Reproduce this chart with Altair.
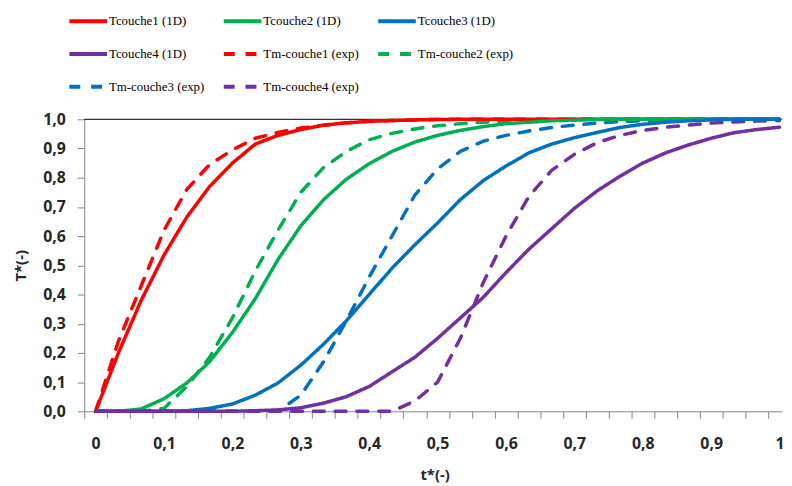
import altair as alt
import pandas as pd

# time axis: 31 samples t = k/30
t_values = [k / 30 for k in range(31)]

names = ["Tcouche1 (1D)", "Tcouche2 (1D)", "Tcouche3 (1D)", "Tcouche4 (1D)",
         "Tm-couche1 (exp)", "Tm-couche2 (exp)", "Tm-couche3 (exp)", "Tm-couche4 (exp)"]
colors = ["#FF0000", "#00B050", "#0070C0", "#7030A0",
          "#FF0000", "#00B050", "#0070C0", "#7030A0"]

T1 = [0, 0.20, 0.38, 0.535, 0.665, 0.77, 0.85, 0.915, 0.945, 0.965, 0.98, 0.988, 0.993, 0.996, 0.998,
      0.999, 1, 1, 1, 1, 1, 1, 1, 1, 1, 1, 1, 1, 1, 1, 1]
T2 = [0, 0, 0.008, 0.043, 0.097, 0.17, 0.27, 0.385, 0.52, 0.635, 0.725, 0.795, 0.848, 0.89, 0.922,
      0.945, 0.962, 0.975, 0.985, 0.99, 0.995, 0.997, 0.999, 1, 1, 1, 1, 1, 1, 1, 1]
T3 = [0, 0, 0, 0, 0.002, 0.01, 0.025, 0.055, 0.097, 0.158, 0.23, 0.31, 0.40, 0.49, 0.57,
      0.645, 0.725, 0.79, 0.84, 0.885, 0.915, 0.937, 0.955, 0.972, 0.983, 0.99, 0.995, 0.998, 1, 1, 1]
T4 = [0, 0, 0, 0, 0, 0, 0, 0.002, 0.005, 0.012, 0.028, 0.05, 0.085, 0.135, 0.185,
      0.25, 0.32, 0.39, 0.475, 0.555, 0.625, 0.695, 0.755, 0.805, 0.85, 0.885, 0.912, 0.935, 0.954, 0.965, 0.973]
Tm1 = [0, 0.24, 0.43, 0.62, 0.76, 0.845, 0.895, 0.935, 0.955, 0.97, 0.98, 0.988, 0.993, 0.996, 0.998,
       1, 1, 1, 1, 1, 1, 1, 1, 1, 1, 1, 1, 1, 1, 1, 1]
Tm2 = [0, 0, 0, 0.01, 0.085, 0.185, 0.32, 0.48, 0.62, 0.75, 0.835, 0.89, 0.93, 0.952, 0.967,
       0.978, 0.985, 0.99, 0.993, 0.996, 0.998, 1, 1, 1, 1, 1, 1, 1, 1, 1, 1]
Tm3 = [0, 0, 0, 0, 0, 0, 0, 0, 0, 0.055, 0.17, 0.31, 0.46, 0.60, 0.74,
       0.83, 0.89, 0.925, 0.945, 0.96, 0.972, 0.98, 0.987, 0.992, 0.995, 0.997, 1, 1, 1, 1, 1]
Tm4 = [0, 0, 0, 0, 0, 0, 0, 0, 0, 0, 0, 0, 0, 0, 0.035,
       0.10, 0.25, 0.44, 0.60, 0.735, 0.825, 0.88, 0.92, 0.945, 0.962, 0.973, 0.98, 0.987, 0.991, 0.994, 0.996]

series = [T1, T2, T3, T4, Tm1, Tm2, Tm3, Tm4]
dashes = [[1, 0]] * 4 + [[11, 11]] * 4

rows = []
for name, vals in zip(names, series):
    for t, v in zip(t_values, vals):
        rows.append({"series": name, "t": t, "v": v})
df = pd.DataFrame(rows)
df_solid = df[~df["series"].str.startswith("Tm")]
df_dash = df[df["series"].str.startswith("Tm")]

x_scale = alt.Scale(domain=[-1 / 60, 1.0036], nice=False, zero=False)
y_scale = alt.Scale(domain=[0, 1], nice=False)

label_font = "Open Sans"
axis_col = "#868686"

x_axis = alt.Axis(
    values=t_values, tickOffset=-11.5, labelOffset=11.5,
    labelExpr="abs(datum.value*10 - round(datum.value*10)) < 0.0001 ? replace(format(round(datum.value*10)/10, '~g'), '.', ',') : ''",
    labelFlush=False, labelOverlap=False, grid=False,
    domainColor=axis_col, tickColor=axis_col, tickSize=7, labelPadding=18,
    labelFont=label_font, labelFontWeight="bold", labelFontSize=16, labelColor="#262626",
    title="t*(-)", titleFont=label_font, titleFontWeight="bold", titleFontSize=15, titleColor="#262626",
    titleX=354, titleY=64, titleBaseline="middle", titleAlign="center",
)
y_axis = alt.Axis(
    values=[i / 10 for i in range(11)],
    labelExpr="replace(format(datum.value, '.1f'), '.', ',')",
    labelFlush=False, labelOverlap=False, grid=False,
    domainColor=axis_col, tickColor=axis_col, tickSize=7, labelPadding=12,
    labelFont=label_font, labelFontWeight="bold", labelFontSize=16, labelColor="#262626",
    title="T*(-)", titleFont=label_font, titleFontWeight="bold", titleFontSize=15, titleColor="#262626",
    titleX=-64, titleY=147.5, titleBaseline="middle", titleAlign="center", titleAngle=-90,
)

legend = alt.Legend(
    orient="none", legendX=-17, legendY=-120, columns=3, direction="horizontal", title=None,
    symbolType="stroke", symbolSize=1444, symbolStrokeWidth=4,
    labelFont="Liberation Serif", labelFontSize=13, labelColor="#000000", labelLimit=300,
    columnPadding=11, rowPadding=4, labelOffset=0, padding=0,
)

color = alt.Color("series:N", scale=alt.Scale(domain=names, range=colors), legend=legend)
dash = alt.StrokeDash("series:N", scale=alt.Scale(domain=names, range=dashes), legend=legend)

top_rule = alt.Chart(pd.DataFrame({"v": [1.0]})).mark_rule(color="black", strokeWidth=1).encode(
    y=alt.Y("v:Q", scale=y_scale, axis=y_axis)
)

dashed = alt.Chart(df_dash).mark_line(strokeWidth=3.5, strokeCap="round", strokeJoin="round").encode(
    x=alt.X("t:Q", scale=x_scale, axis=x_axis),
    y=alt.Y("v:Q", scale=y_scale, axis=y_axis),
    color=color, strokeDash=dash, detail="series:N",
)
solid = alt.Chart(df_solid).mark_line(strokeWidth=3.5, strokeCap="round", strokeJoin="round").encode(
    x=alt.X("t:Q", scale=x_scale, axis=x_axis),
    y=alt.Y("v:Q", scale=y_scale, axis=y_axis),
    color=color, strokeDash=dash, detail="series:N",
)

chart = alt.layer(top_rule, dashed, solid).properties(
    width=705, height=295,
    autosize=alt.AutoSizeParams(type="none"),
    padding={"left": 77, "top": 110, "right": 2, "bottom": 73},
    background="white",
).configure_view(stroke=None)

chart.save("out.html", embed_options={"renderer": "svg", "actions": False})
